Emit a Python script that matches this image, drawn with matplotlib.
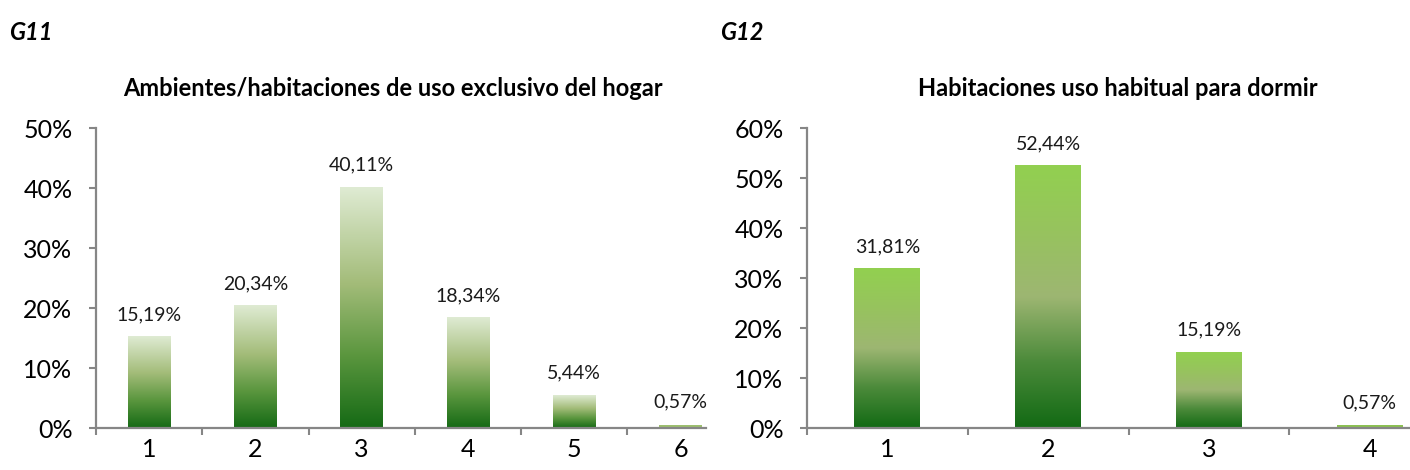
import matplotlib
matplotlib.use('Agg')

import numpy as np
import matplotlib.pyplot as plt
from matplotlib.colors import LinearSegmentedColormap

plt.rcParams['font.family'] = ['Lato', 'DejaVu Sans']

# data
cats_g11 = ['1', '2', '3', '4', '5', '6']
vals_g11 = [15.19, 20.34, 40.11, 18.34, 5.44, 0.57]
labels_g11 = ['15,19%', '20,34%', '40,11%', '18,34%', '5,44%', '0,57%']

cats_g12 = ['1', '2', '3', '4']
vals_g12 = [31.81, 52.44, 15.19, 0.57]
labels_g12 = ['31,81%', '52,44%', '15,19%', '0,57%']

cmap_g11 = LinearSegmentedColormap.from_list(
    'g11', [(0.0, '#156a15'), (0.3, '#5a963e'), (0.6, '#a3bc79'), (1.0, '#dfebd3')])
cmap_g12 = LinearSegmentedColormap.from_list(
    'g12', [(0.0, '#126a14'), (0.25, '#4b8a3a'), (0.5, '#9db672'), (0.75, '#97c35e'), (1.0, '#92d050')])

W, H = 1410, 470
fig = plt.figure(figsize=(W / 100, H / 100), dpi=100)

grey = '#868686'


def draw_panel(ax, cats, vals, labels, cmap, ymax, xright, width, tiny_color):
    n = len(cats)
    x = np.arange(1, n + 1)
    grad = np.linspace(0, 1, 256).reshape(-1, 1)
    for xi, v, lab in zip(x, vals, labels):
        if v < 2:
            ax.bar(xi, v, width=width, color=tiny_color, zorder=2)
        else:
            ax.imshow(grad, extent=[xi - width / 2, xi + width / 2, 0, v],
                      origin='lower', aspect='auto', cmap=cmap, zorder=2)
        ax.annotate(lab, (xi, v), xytext=(0, 10), textcoords='offset points',
                    ha='center', va='bottom', fontsize=14, color='#1a1a1a')
    ax.set_yticks(np.arange(0, ymax + 1, 10))
    ax.set_yticklabels([f'{int(t)}%' for t in np.arange(0, ymax + 1, 10)])
    ax.set_xticks(np.arange(0.5, xright, 1))
    ax.set_xticklabels([])
    ax.set_xticks(x, minor=True)
    ax.set_xticklabels(cats, minor=True)
    ax.set_xlim(0.5, xright)
    ax.set_ylim(0, ymax)
    ax.tick_params(axis='x', which='major', length=5, width=1.5, color=grey, direction='out')
    ax.tick_params(axis='x', which='minor', length=0, pad=7, labelsize=18)
    ax.tick_params(axis='y', length=5, width=1.5, color=grey, pad=12, labelsize=18)
    for s in ['top', 'right']:
        ax.spines[s].set_visible(False)
    for s in ['left', 'bottom']:
        ax.spines[s].set_color(grey)
        ax.spines[s].set_linewidth(1.6)
    ax.spines['bottom'].set_zorder(3)


ax1 = fig.add_axes([96 / W, 1 - 428 / H, 610 / W, 300 / H])
draw_panel(ax1, cats_g11, vals_g11, labels_g11, cmap_g11, 50, 6.24, 0.4, '#9dbf6e')

ax2 = fig.add_axes([807 / W, 1 - 428 / H, 603 / W, 300 / H])
draw_panel(ax2, cats_g12, vals_g12, labels_g12, cmap_g12, 60, 4.25, 0.41, '#8cc152')

fig.text(9 / W, 1 - 33 / H, 'G11', fontsize=17, fontweight='bold', fontstyle='italic', va='center')
fig.text(720 / W, 1 - 33 / H, 'G12', fontsize=17, fontweight='bold', fontstyle='italic', va='center')
fig.text(393 / W, 1 - 88 / H, 'Ambientes/habitaciones de uso exclusivo del hogar',
         fontsize=17, fontweight='bold', ha='center', va='center')
fig.text(1118 / W, 1 - 88 / H, 'Habitaciones uso habitual para dormir',
         fontsize=17, fontweight='bold', ha='center', va='center')

fig.savefig('out.png', dpi=100)
